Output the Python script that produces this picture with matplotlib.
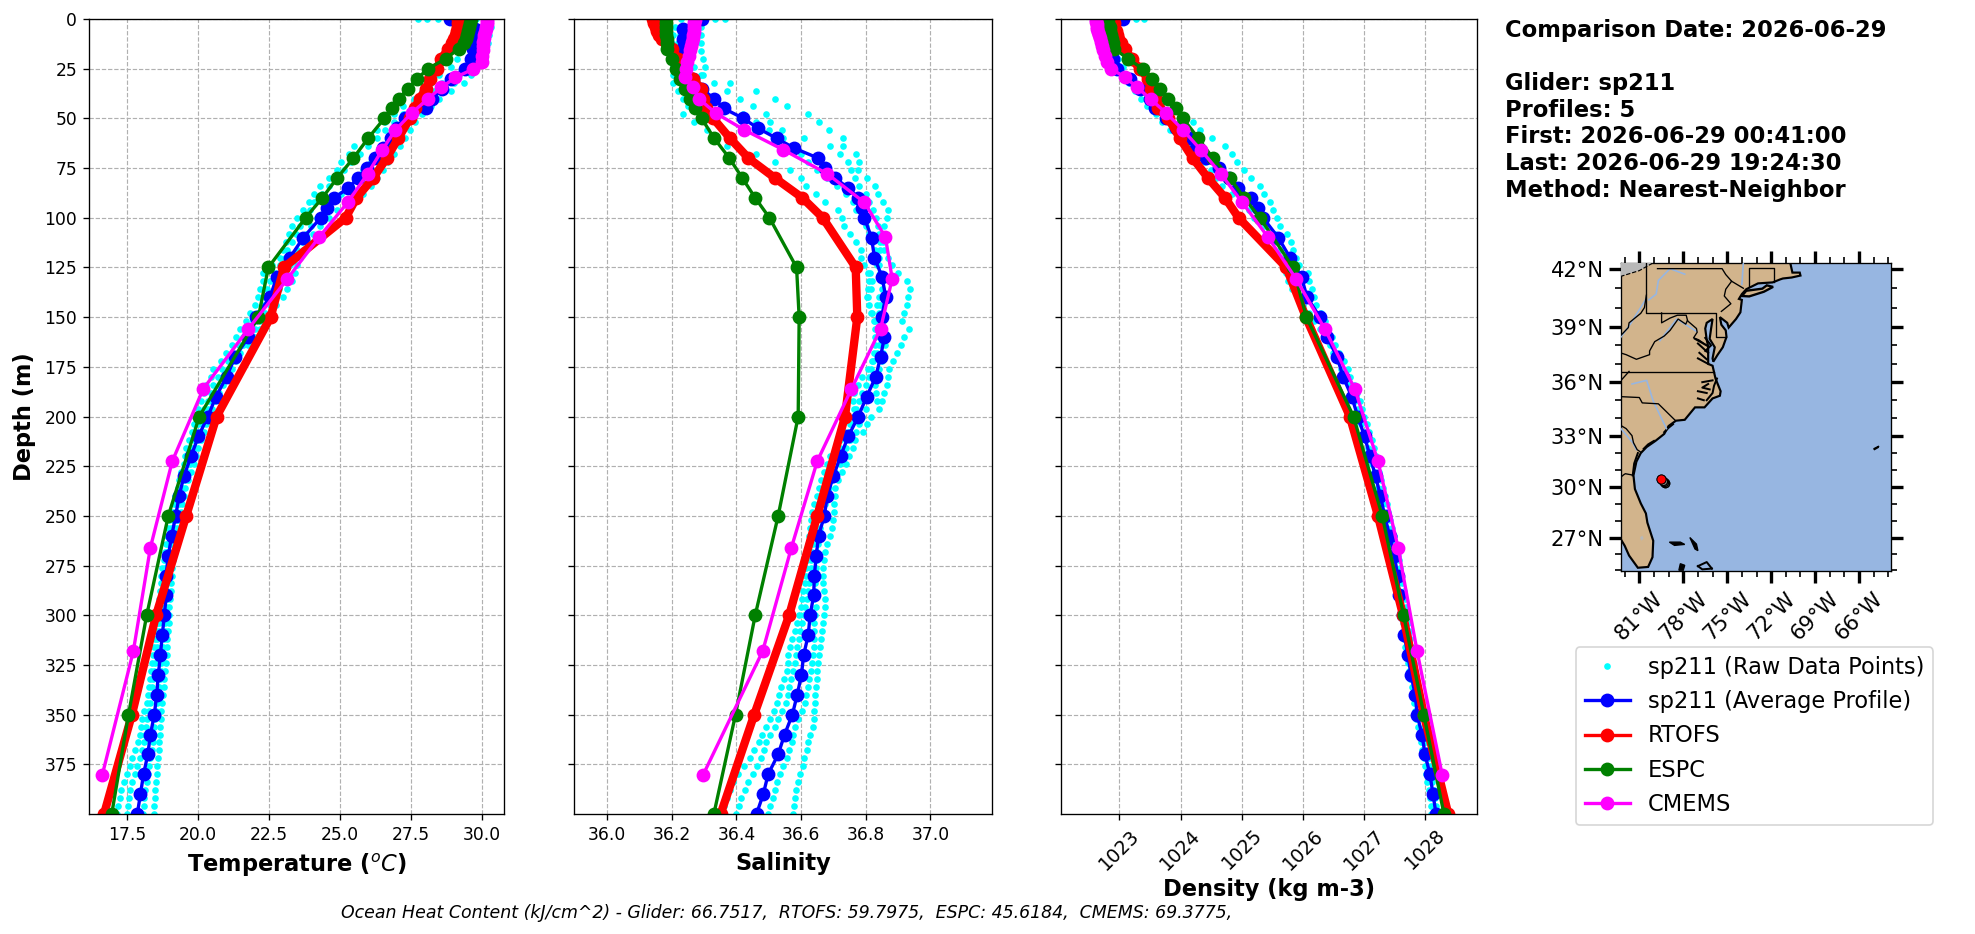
import numpy as np
import matplotlib
matplotlib.use('Agg')
import matplotlib.pyplot as plt
from matplotlib.lines import Line2D

# glider average profile
depth_glider = [0,5,10,15,20,25,30,35,40,45,50,55,60,65,70,75,80,85,90,95,100,110,120,130,140,150,160,170,180,190,200,
                210,220,230,240,250,260,270,280,290,300,310,320,330,340,350,360,370,380,390,400]
temp_glider = [28.86,29.74,29.72,29.68,29.6,29.39,28.92,28.6,28.22,28.04,27.28,27.0,26.81,26.5,26.23,25.96,25.64,25.29,24.8,24.53,24.32,
               23.71,23.24,22.77,22.54,22.03,21.78,21.31,21.01,20.64,20.35,20.02,19.76,19.51,19.34,19.22,19.08,18.96,18.88,18.89,18.82,
               18.75,18.68,18.61,18.55,18.47,18.33,18.24,18.09,17.98,17.87]
sal_glider = [36.292,36.235,36.235,36.23,36.24,36.24,36.266,36.292,36.33,36.361,36.421,36.467,36.524,36.579,36.653,36.674,36.705,36.746,36.777,36.79,36.796,
              36.818,36.827,36.851,36.862,36.849,36.858,36.846,36.831,36.803,36.777,36.746,36.722,36.70,36.681,36.672,36.654,36.647,36.641,36.639,36.628,
              36.622,36.608,36.601,36.588,36.573,36.549,36.529,36.498,36.483,36.462]
dens_glider = [1023.06,1022.9,1022.86,1022.86,1022.89,1022.96,1023.17,1023.33,1023.5,1023.58,1023.77,1023.93,1024.15,1024.26,1024.42,1024.63,1024.8,1024.94,1025.15,1025.26,1025.35,
               1025.6,1025.79,1025.98,1026.07,1026.28,1026.4,1026.56,1026.66,1026.8,1026.9,1027.01,1027.1,1027.19,1027.27,1027.34,1027.42,1027.5,1027.55,1027.58,1027.64,
               1027.66,1027.72,1027.77,1027.84,1027.87,1027.95,1028.0,1028.08,1028.13,1028.18]

# models
depth_model = [0,2,4,6,8,10,12,15,20,25,30,35,40,45,50,60,70,80,90,100,125,150,200,250,300,350,400]
temp_rtofs = [29.16,29.15,29.14,29.12,29.08,29.02,28.95,28.8,28.57,28.4,28.16,28.04,27.8,27.63,27.46,27.05,26.64,26.17,25.58,25.2,23.03,22.56,20.66,19.59,18.53,17.68,16.7]
sal_rtofs = [36.142,36.145,36.15,36.155,36.16,36.17,36.185,36.2,36.22,36.24,36.266,36.29,36.295,36.307,36.328,36.38,36.437,36.519,36.604,36.667,36.769,36.774,36.736,36.65,36.563,36.455,36.351]
dens_rtofs = [1022.9,1022.91,1022.92,1022.94,1022.96,1022.98,1023.02,1023.09,1023.2,1023.33,1023.47,1023.52,1023.6,1023.63,1023.8,1023.99,1024.2,1024.45,1024.73,1024.95,1025.73,1026.05,1026.77,1027.23,1027.64,1027.98,1028.38]
temp_espc = [29.6,29.58,29.55,29.52,29.48,29.42,29.35,29.17,28.72,28.1,27.72,27.38,27.08,26.84,26.56,25.99,25.47,24.9,24.38,23.79,22.48,22.13,20.05,18.96,18.2,17.56,16.97]
sal_espc = [36.182,36.182,36.182,36.183,36.183,36.184,36.184,36.185,36.2,36.213,36.225,36.24,36.256,36.272,36.292,36.331,36.378,36.418,36.458,36.502,36.586,36.594,36.591,36.529,36.458,36.397,36.33]
dens_espc = [1022.81,1022.82,1022.84,1022.85,1022.87,1022.88,1022.9,1022.92,1023.14,1023.38,1023.54,1023.67,1023.8,1023.93,1024.04,1024.29,1024.53,1024.81,1025.04,1025.3,1025.84,1026.06,1026.83,1027.3,1027.65,1027.98,1028.31]

depth_cmems = [0.49,1.5,2.6,3.8,5.1,6.4,7.9,9.6,11.4,13.5,15.8,18.5,21.6,25.2,29.4,34.4,40.3,47.4,55.8,65.8,77.9,92.3,109.7,130.7,155.9,186.1,222.5,266.0,318.1,380.2]
temp_cmems = [30.18,30.17,30.16,30.14,30.12,30.1,30.08,30.06,30.04,30.03,30.02,30.0,29.98,29.68,29.06,28.57,28.08,27.52,26.95,26.49,25.97,25.27,24.27,23.15,21.78,20.19,19.1,18.33,17.73,16.64]
sal_cmems = [36.271,36.27,36.27,36.269,36.268,36.267,36.266,36.264,36.262,36.26,36.256,36.252,36.248,36.243,36.24,36.264,36.285,36.336,36.424,36.545,36.681,36.796,36.861,36.882,36.846,36.756,36.65,36.57,36.481,36.297]
dens_cmems = [1022.62,1022.62,1022.63,1022.63,1022.64,1022.65,1022.66,1022.68,1022.7,1022.72,1022.74,1022.77,1022.8,1022.87,1023.1,1023.29,1023.51,1023.77,1024.04,1024.33,1024.66,1025.01,1025.43,1025.89,1026.36,1026.85,1027.23,1027.56,1027.87,1028.28]

# raw glider samples, one value each 4 m
depth_raw = list(range(0, 401, 4))
temp_raw_a = [27.75,29.7,29.6,29.5,29.3,29.1,28.9,28.5,28.2,27.9,27.6,27.2,26.9,26.6,26.3,25.9,25.5,25.3,25.05,24.9,24.6,24.3,24.1,23.9,23.7,23.5,
              23.3,23.2,23.1,23.0,22.9,22.6,22.3,22.3,22.2,22.1,22.0,21.85,21.7,21.5,21.35,21.2,21.0,20.8,20.55,20.45,20.3,20.2,20.1,20.0,19.9,
              19.85,19.8,19.7,19.6,19.55,19.5,19.4,19.35,19.3,19.2,19.15,19.1,19.0,18.95,18.9,18.88,18.85,18.8,18.75,18.72,18.7,18.66,18.63,18.61,18.6,
              18.55,18.52,18.5,18.46,18.43,18.4,18.36,18.3,18.27,18.25,18.2,18.1,18.05,18.0,17.95,17.9,17.8,17.7,17.6,17.5,17.4,17.3,17.25,17.2,17.15]
temp_raw_b = [28.07,29.9,29.85,29.8,29.7,29.55,29.3,29.0,28.6,28.3,28.0,27.6,27.2,26.9,26.6,26.3,26.0,25.7,25.4,25.15,24.9,24.6,24.35,24.1,23.95,23.8,
              23.6,23.45,23.3,23.15,23.05,22.9,22.7,22.55,22.45,22.35,22.25,22.1,21.95,21.8,21.6,21.45,21.25,21.05,20.85,20.7,20.55,20.45,20.35,20.2,20.1,
              20.0,19.95,19.85,19.8,19.7,19.62,19.55,19.45,19.4,19.3,19.25,19.2,19.12,19.05,19.0,18.96,18.93,18.9,18.86,18.82,18.8,18.76,18.73,18.7,18.68,
              18.65,18.62,18.58,18.55,18.52,18.48,18.45,18.42,18.38,18.35,18.32,18.28,18.22,18.17,18.15,18.1,18.05,17.95,17.85,17.78,17.7,17.63,17.58,17.55,17.5]
temp_raw_c = [28.45,30.3,30.25,30.2,30.15,30.1,29.7,29.6,29.35,28.9,28.5,28.2,27.9,27.65,27.45,27.3,27.1,26.9,26.7,26.5,26.3,26.1,25.8,25.4,24.9,24.6,
              24.3,24.05,23.9,23.7,23.6,23.5,23.4,23.3,23.15,23.0,22.75,22.6,22.4,22.2,22.0,21.75,21.5,21.35,21.2,21.0,20.9,20.75,20.6,20.5,20.4,
              20.3,20.2,20.1,20.0,19.95,19.85,19.75,19.65,19.55,19.5,19.45,19.4,19.3,19.25,19.2,19.18,19.15,19.12,19.1,19.08,19.06,19.04,19.02,19.0,19.0,
              18.98,18.95,18.93,18.92,18.9,18.87,18.85,18.82,18.8,18.78,18.75,18.72,18.7,18.68,18.67,18.65,18.62,18.6,18.57,18.55,18.53,18.5,18.5,18.47,18.45]
temp_raw_d = [29.8,30.1,30.05,30.0,29.95,29.85,29.5,29.2,29.0,28.6,28.3,27.95,27.6,27.3,27.05,26.85,26.6,26.35,26.1,25.8,25.55,25.3,25.05,24.7,24.45,24.2,
              23.98,23.8,23.65,23.5,23.4,23.25,23.1,23.0,22.85,22.7,22.55,22.35,22.2,22.0,21.85,21.6,21.4,21.2,21.05,20.9,20.75,20.6,20.45,20.35,20.25,
              20.15,20.05,19.98,19.9,19.82,19.72,19.62,19.55,19.45,19.38,19.32,19.28,19.2,19.15,19.1,19.07,19.03,19.0,18.98,18.95,18.93,18.92,18.9,18.88,18.87,
              18.85,18.83,18.8,18.77,18.75,18.72,18.69,18.66,18.63,18.6,18.57,18.54,18.5,18.47,18.45,18.42,18.38,18.33,18.28,18.24,18.2,18.15,18.12,18.1,18.08]
sal_raw_a = [36.227,36.21,36.205,36.2,36.2,36.2,36.205,36.205,36.205,36.22,36.235,36.25,36.235,36.27,36.31,36.34,36.37,36.46,36.52,36.565,36.6,36.615,36.645,36.675,36.715,36.727,
             36.732,36.75,36.77,36.785,36.785,36.796,36.806,36.81,36.808,36.805,36.81,36.817,36.825,36.828,36.83,36.83,36.827,36.824,36.808,36.79,36.775,36.765,36.762,36.765,36.76,
             36.755,36.749,36.74,36.72,36.7,36.68,36.67,36.662,36.656,36.648,36.64,36.635,36.63,36.627,36.624,36.622,36.62,36.618,36.616,36.614,36.612,36.607,36.603,36.599,36.592,
             36.587,36.581,36.572,36.565,36.56,36.558,36.555,36.548,36.538,36.533,36.526,36.515,36.505,36.492,36.48,36.47,36.455,36.443,36.423,36.406,36.39,36.38,36.37,36.36,36.35]
sal_raw_b = [36.335,36.23,36.225,36.22,36.225,36.23,36.24,36.25,36.27,36.3,36.33,36.37,36.42,36.46,36.5,36.545,36.58,36.6,36.62,36.65,36.68,36.71,36.74,36.76,36.77,36.79,
             36.8,36.81,36.82,36.83,36.835,36.84,36.845,36.85,36.85,36.84,36.845,36.84,36.84,36.845,36.845,36.84,36.835,36.82,36.815,36.81,36.8,36.79,36.78,36.77,36.76,
             36.75,36.735,36.72,36.71,36.69,36.685,36.68,36.675,36.668,36.66,36.655,36.65,36.645,36.64,36.638,36.636,36.634,36.632,36.63,36.628,36.626,36.622,36.617,36.612,36.608,
             36.603,36.598,36.593,36.588,36.584,36.58,36.576,36.57,36.562,36.558,36.552,36.54,36.53,36.52,36.505,36.49,36.484,36.477,36.465,36.45,36.437,36.425,36.415,36.408,36.397]
sal_raw_c = [36.364,36.25,36.245,36.24,36.24,36.25,36.27,36.29,36.33,36.37,36.41,36.45,36.49,36.505,36.54,36.61,36.69,36.72,36.745,36.755,36.768,36.778,36.8,36.81,36.822,36.833,
             36.838,36.842,36.845,36.845,36.84,36.835,36.813,36.82,36.815,36.806,36.834,36.821,36.83,36.845,36.855,36.86,36.855,36.85,36.84,36.83,36.829,36.832,36.834,36.8,36.79,
             36.78,36.77,36.75,36.74,36.73,36.72,36.705,36.695,36.687,36.68,36.675,36.67,36.665,36.66,36.656,36.652,36.65,36.648,36.646,36.645,36.644,36.642,36.64,36.645,36.642,
             36.64,36.64,36.64,36.64,36.637,36.635,36.631,36.626,36.62,36.616,36.612,36.602,36.59,36.581,36.576,36.571,36.563,36.555,36.545,36.535,36.526,36.52,36.512,36.505,36.498]
sal_raw_d = [36.3,36.29,36.29,36.29,36.29,36.295,36.302,36.296,36.38,36.46,36.52,36.555,36.62,36.655,36.685,36.73,36.73,36.77,36.78,36.775,36.805,36.83,36.837,36.853,36.868,36.865,
             36.858,36.855,36.855,36.858,36.87,36.882,36.9,36.928,36.936,36.932,36.929,36.92,36.913,36.935,36.92,36.908,36.896,36.885,36.873,36.87,36.865,36.858,36.85,36.842,36.815,
             36.805,36.793,36.767,36.76,36.749,36.738,36.727,36.715,36.705,36.704,36.703,36.703,36.7,36.696,36.688,36.679,36.675,36.672,36.669,36.669,36.669,36.672,36.674,36.673,36.671,
             36.668,36.664,36.661,36.658,36.655,36.653,36.65,36.648,36.645,36.643,36.642,36.641,36.64,36.638,36.628,36.622,36.618,36.61,36.605,36.597,36.59,36.585,36.581,36.578,36.574]
dens_raw_a = [1023.41,1022.75,1022.75,1022.78,1022.82,1022.87,1022.93,1023.08,1023.15,1023.25,1023.36,1023.46,1023.6,1023.7,1023.82,1023.95,1024.1,1024.28,1024.4,1024.5,1024.58,1024.68,1024.85,1025.0,1025.12,1025.2,
              1025.38,1025.55,1025.58,1025.62,1025.65,1025.68,1025.72,1025.76,1025.82,1025.92,1026.0,1026.1,1026.18,1026.28,1026.36,1026.44,1026.5,1026.58,1026.63,1026.7,1026.75,1026.8,1026.85,1026.9,1026.92,
              1026.96,1027.0,1027.03,1027.07,1027.1,1027.13,1027.17,1027.2,1027.23,1027.26,1027.29,1027.32,1027.35,1027.38,1027.41,1027.44,1027.47,1027.49,1027.51,1027.53,1027.55,1027.57,1027.59,1027.61,1027.62,
              1027.64,1027.65,1027.66,1027.68,1027.7,1027.72,1027.74,1027.76,1027.78,1027.8,1027.82,1027.84,1027.86,1027.88,1027.9,1027.93,1027.95,1027.98,1028.0,1028.02,1028.04,1028.06,1028.08,1028.09,1028.1]
dens_raw_b = [1023.28,1022.95,1022.95,1022.95,1022.96,1022.98,1023.06,1023.13,1023.25,1023.42,1023.55,1023.68,1023.82,1024.2,1024.32,1024.52,1024.72,1024.84,1024.93,1025.04,1025.15,1025.3,1025.37,1025.46,1025.52,1025.58,
              1025.62,1025.74,1025.8,1025.84,1025.89,1025.94,1026.08,1026.1,1026.15,1026.19,1026.22,1026.3,1026.37,1026.42,1026.47,1026.52,1026.6,1026.68,1026.74,1026.78,1026.83,1026.88,1026.93,1026.97,1027.0,
              1027.05,1027.09,1027.13,1027.16,1027.19,1027.22,1027.25,1027.28,1027.31,1027.34,1027.37,1027.4,1027.43,1027.46,1027.49,1027.52,1027.55,1027.57,1027.59,1027.61,1027.63,1027.65,1027.67,1027.69,1027.71,
              1027.72,1027.74,1027.76,1027.78,1027.8,1027.82,1027.84,1027.86,1027.88,1027.9,1027.92,1027.94,1027.96,1027.98,1028.0,1028.02,1028.04,1028.06,1028.08,1028.1,1028.12,1028.14,1028.16,1028.18,1028.2]

temp_ticks = [17.5,20.0,22.5,25.0,27.5,30.0]
sal_ticks = [36.0,36.2,36.4,36.6,36.8,37.0]
dens_ticks = [1023,1024,1025,1026,1027,1028]
depth_ticks = [0,25,50,75,100,125,150,175,200,225,250,275,300,325,350,375]

# map outlines, lon / lat
land_lon = [-70.7,-70.55,-70.05,-70.0,-70.6,-71.2,-71.4,-71.9,-72.9,-73.7,-74.0,-74.2,-74.0,-74.1,-74.4,-74.9,-75.0,-75.5,-75.4,-75.1,-75.05,-75.3,-75.65,-75.95,-76.0,-75.85,-76.2,-76.1,-76.0,-76.4,-76.5,-76.4,-76.3,-76.3,-76.3,-76.0,-75.8,-75.45,-75.5,-76.0,-76.55,-77.2,-77.9,-78.5,-79.0,-79.3,-79.9,-80.5,-80.9,-81.2,-81.4,-81.3,-80.9,-80.55,-80.45,-80.05,-80.1,-80.4,-81.1,-81.7,-82.0,-82.3,-82.3,-70.7]
land_lat = [42.3,41.8,41.8,41.65,41.55,41.5,41.45,41.3,41.25,40.95,40.7,40.45,40.4,39.75,39.4,38.95,39.2,39.5,39.1,38.8,38.45,37.9,37.5,37.12,37.3,37.9,38.35,38.9,39.4,39.2,38.9,38.3,37.95,37.55,37.0,36.9,36.2,35.5,35.25,35.1,34.6,34.6,33.9,33.85,33.55,33.1,32.7,32.35,32.0,31.5,30.7,29.9,29.05,28.45,27.9,26.8,25.8,25.2,25.15,25.9,26.5,26.95,42.4,42.4]
long_island_lon = [-74.0,-73.7,-72.6,-72.3,-71.87,-72.5,-73.5,-74.0]
long_island_lat = [40.6,40.87,40.98,41.15,41.07,40.82,40.58,40.6]
islands = [([-78.95,-78.2,-77.9,-78.6], [26.72,26.72,26.58,26.52]),
           ([-77.55,-77.1,-77.0,-77.2,-77.4], [27.0,26.6,26.2,26.3,26.7]),
           ([-78.2,-77.9,-78.0,-78.3], [25.4,25.3,25.0,25.0]),
           ([-65.0,-64.65,-64.7,-64.95], [32.25,32.4,32.32,32.2])]
# tidal inlets, drawn as heavy short strokes
inlets = [([-76.3,-77.2], [37.95,38.35]), ([-76.3,-77.0], [37.6,38.1]), ([-76.4,-76.9], [37.25,37.6]),
          ([-76.3,-77.0], [37.0,37.3]), ([-76.5,-76.1,-76.5], [38.4,38.0,37.7]),
          ([-76.0,-76.7], [36.1,36.0]), ([-76.4,-77.0], [35.4,35.5]), ([-76.6,-77.0], [35.0,35.1]),
          ([-75.7,-75.9,-76.0,-76.4], [36.2,35.8,35.4,35.0]), ([-76.3,-76.7,-76.2], [35.9,35.7,35.6]),
          ([-81.1,-81.35,-81.45], [32.0,31.4,30.7]), ([-80.0,-80.4,-80.7], [32.7,32.5,32.25]),
          ([-79.3,-79.0,-78.7], [33.2,33.45,33.65]),
          ([-77.0,-76.4,-76.05], [25.25,25.5,25.1]), ([-77.0,-76.7,-76.05], [25.25,25.05,25.1])]
borders = [([-80.52,-80.52,-75.79,-75.79,-75.05], [42.4,39.72,39.72,38.45,38.45]),
           ([-79.76,-75.35,-75.1,-74.7,-75.1,-75.2,-74.75,-75.4], [42.0,42.0,41.7,41.36,40.95,40.6,40.2,39.8]),
           ([-74.7,-73.9], [41.36,41.0]),
           ([-73.5,-73.5,-71.8,-71.8], [41.1,42.03,42.03,41.3]),
           ([-79.48,-79.48,-78.9,-78.4,-77.8,-77.7,-77.1,-77.05,-77.3,-76.95,-76.3], [39.72,39.2,39.45,39.6,39.6,39.3,38.9,38.7,38.4,38.3,37.95]),
           ([-82.3,-81.9,-81.2,-80.3,-80.3,-79.95,-79.3,-78.9,-78.35,-77.83,-77.72], [37.6,37.5,37.25,37.5,37.7,38.2,38.5,38.8,39.4,39.13,39.32]),
           ([-80.52,-80.65,-80.9,-81.7,-81.75,-82.3], [40.64,40.0,39.7,39.2,38.95,38.5]),
           ([-82.3,-75.87], [36.55,36.55]),
           ([-82.3,-81.7], [36.05,36.59]),
           ([-82.3,-81.0,-80.8,-79.7,-78.55], [35.2,35.15,34.85,34.8,33.87]),
           ([-82.3,-81.9,-81.5,-81.4,-81.15,-80.9], [33.6,33.4,33.0,32.6,32.2,32.05]),
           ([-82.3,-82.05,-81.95,-81.45], [30.57,30.75,30.8,30.72])]
rivers = [([-77.9,-78.9,-79.7,-79.85,-80.35], [41.72,42.0,41.4,40.7,40.4]),
          ([-80.5,-81.6,-82.3], [40.5,39.15,38.4]),
          ([-79.6,-78.45,-77.1], [38.25,39.4,38.75]),
          ([-81.5,-80.5,-80.05,-79.15], [35.9,36.1,34.95,33.4]),
          ([-82.25,-81.85,-81.45,-81.2], [33.4,33.0,32.6,32.2]),
          ([-73.9,-74.0], [42.3,41.2])]
lake_erie_lon = [-82.3,-81.0,-79.8,-82.3]
lake_erie_lat = [41.6,41.9,42.4,42.4]
lake_o_lon = [-80.95,-80.8,-80.7,-80.85]
lake_o_lat = [27.0,27.12,26.95,26.8]
track_lon = [-79.23,-79.27,-79.3,-79.35,-79.5]
track_lat = [30.27,30.25,30.3,30.35,30.47]

map_lon_ticks = [-81,-78,-75,-72,-69,-66]
map_lon_labels = ['81°W','78°W','75°W','72°W','69°W','66°W']
map_lat_ticks = [27,30,33,36,39,42]
map_lat_labels = ['27°N','30°N','33°N','36°N','39°N','42°N']

W, H = 1976, 934
DPI = 120

def axes_box(x0, x1, y0, y1):
    return [x0/W, 1 - y1/H, (x1 - x0)/W, (y1 - y0)/H]

def merc(lat):
    return np.degrees(np.log(np.tan(np.pi/4 + np.radians(lat)/2)))

def merc_inv(y):
    return np.degrees(2*np.arctan(np.exp(np.radians(y))) - np.pi/2)

fig = plt.figure(figsize=(W/DPI, H/DPI), dpi=DPI)
ax1 = fig.add_axes(axes_box(88.7, 504, 19, 814))
ax2 = fig.add_axes(axes_box(574.3, 991.7, 19, 814))
ax3 = fig.add_axes(axes_box(1061.3, 1477, 19, 814))

panels = [(ax1, [temp_raw_a,temp_raw_b,temp_raw_c,temp_raw_d], temp_glider, temp_rtofs, temp_espc, temp_cmems),
          (ax2, [sal_raw_a,sal_raw_b,sal_raw_c,sal_raw_d], sal_glider, sal_rtofs, sal_espc, sal_cmems),
          (ax3, [dens_raw_a,dens_raw_b], dens_glider, dens_rtofs, dens_espc, dens_cmems)]

for ax, raws, glider, rtofs, espc, cmems in panels:
    for i, raw in enumerate(raws):
        ax.plot(raw, depth_raw, ls='none', marker='o', ms=4, mew=0, color='cyan')
    ax.plot(glider, depth_glider, '-o', color='blue', lw=2, ms=7.3)
    ax.plot(rtofs, depth_model, '-o', color='red', lw=5, ms=7.3)
    ax.plot(espc, depth_model, '-o', color='green', lw=2, ms=7.3)
    ax.plot(cmems, depth_cmems, '-o', color='magenta', lw=2, ms=7.3)
    ax.set_ylim(400, 0)
    ax.set_yticks(depth_ticks)
    ax.grid(True, ls='--', color='#b0b0b0', lw=0.7)
    ax.set_axisbelow(True)
    ax.tick_params(labelsize=10.3)

ax1.set_xlim(16.16, 30.77)
ax1.set_xticks(temp_ticks)
ax1.set_xlabel('Temperature ($^o$$C$)', fontweight='bold', fontsize=13.5, labelpad=5)
ax1.set_ylabel('Depth (m)', fontweight='bold', fontsize=13.5, labelpad=5)

ax2.set_xlim(35.898, 37.19)
ax2.set_xticks(sal_ticks)
ax2.set_xlabel('Salinity', fontweight='bold', fontsize=13.5, labelpad=5)
ax2.set_yticklabels([])

ax3.set_xlim(1022.05, 1028.85)
ax3.set_xticks(dens_ticks)
ax3.tick_params(axis='x', labelrotation=45, labelsize=11.5)
ax3.set_xlabel('Density (kg m-3)', fontweight='bold', fontsize=13.5, labelpad=3)
ax3.set_yticklabels([])

# map
ocean = (0.59375, 0.71484375, 0.8828125)
ax_map = fig.add_axes(axes_box(1621.3, 1891.3, 262.7, 571))
ax_map.set_yscale('function', functions=(merc, merc_inv))
ax_map.set_facecolor(ocean)
ax_map.fill(land_lon, land_lat, facecolor='tan', edgecolor='black', lw=1.3, zorder=2)
ax_map.fill(long_island_lon, long_island_lat, facecolor='tan', edgecolor='black', lw=1.4, zorder=2)
ax_map.fill(lake_erie_lon, lake_erie_lat, facecolor='#b8b8b8', edgecolor='none', zorder=3)
ax_map.plot(lake_erie_lon[:3], lake_erie_lat[:3], 'k--', lw=0.7, zorder=3)
ax_map.fill(lake_o_lon, lake_o_lat, facecolor='#b8b8b8', edgecolor='none', zorder=3)
for lons, lats in islands:
    ax_map.fill(lons, lats, facecolor='black', edgecolor='black', lw=0.8, zorder=3)
for lons, lats in inlets:
    ax_map.plot(lons, lats, color='black', lw=1.2, zorder=3)
for lons, lats in rivers:
    ax_map.plot(lons, lats, color=ocean, lw=1.0, zorder=3)
for lons, lats in borders:
    ax_map.plot(lons, lats, color='black', lw=0.8, zorder=4)
ax_map.plot(track_lon, track_lat, ls='none', marker='o', ms=5, mfc='#808080', mec='black', mew=0.8, zorder=5)
ax_map.plot(track_lon[-1:], track_lat[-1:], ls='none', marker='o', ms=5.5, mfc='red', mec='black', mew=0.6, zorder=6)
ax_map.set_xlim(-82.23, -63.8)
ax_map.set_ylim(24.95, 42.3)
ax_map.set_xticks(map_lon_ticks)
ax_map.set_xticklabels(map_lon_labels, rotation=45, ha='center', fontsize=12.7)
ax_map.set_yticks(map_lat_ticks)
ax_map.set_yticklabels(map_lat_labels, fontsize=12.7)
ax_map.set_xticks(list(range(-82, -63)), minor=True)
ax_map.set_yticks(list(range(25, 43)), minor=True)
ax_map.yaxis.set_minor_formatter(matplotlib.ticker.NullFormatter())
ax_map.tick_params(which='major', length=7, width=2, top=True, right=True)
ax_map.tick_params(which='minor', length=3.5, width=1, top=True, right=True)

# the legend shows every line at the same weight
handles = [Line2D([], [], ls='none', marker='o', ms=4, mew=0, color='cyan'),
           Line2D([], [], marker='o', lw=2, ms=7.3, color='blue'),
           Line2D([], [], marker='o', lw=2, ms=7.3, color='red'),
           Line2D([], [], marker='o', lw=2, ms=7.3, color='green'),
           Line2D([], [], marker='o', lw=2, ms=7.3, color='magenta')]
labels = ['sp211 (Raw Data Points)', 'sp211 (Average Profile)', 'RTOFS', 'ESPC', 'CMEMS']
fig.legend(handles, labels, loc='upper left', bbox_to_anchor=(1576/W, 1 - 647/H), borderaxespad=0,
           fontsize=13.5, labelspacing=0.5)

fig.text(1505/W, 1 - 19/H,
         'Comparison Date: 2026-06-29\n\nGlider: sp211\nProfiles: 5\nFirst: 2026-06-29 00:41:00\nLast: 2026-06-29 19:24:30\nMethod: Nearest-Neighbor',
         fontweight='bold', fontsize=13.6, va='top', ha='left', linespacing=1.2)
fig.text(789/W, 1 - 913/H,
         'Ocean Heat Content (kJ/cm^2) - Glider: 66.7517,  RTOFS: 59.7975,  ESPC: 45.6184,  CMEMS: 69.3775, ',
         style='italic', fontsize=10.4, ha='center', va='center')

fig.savefig('out.png', dpi=DPI)
